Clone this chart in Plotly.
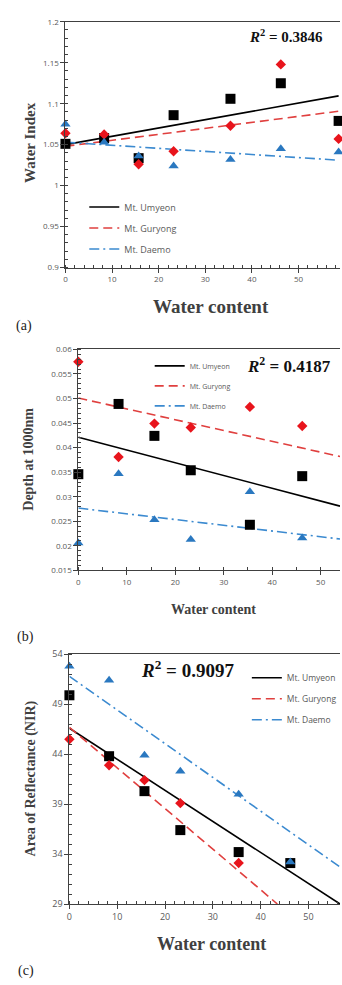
import plotly.graph_objects as go

W, H = 342, 985

# ---------------- data ----------------
water_a = [0, 8.3, 15.7, 23.2, 35.4, 46.2, 58.6]
wi_umyeon = [1.051, 1.058, 1.0335, 1.086, 1.106, 1.125, 1.079]
wi_guryong = [1.064, 1.0625, 1.026, 1.042, 1.073, 1.148, 1.057]
wi_daemo = [1.075, 1.053, 1.036, 1.024, 1.032, 1.045, 1.041]
trend_x_a = [0, 58.6]
trend_wi_umyeon = [1.050, 1.1096]
trend_wi_guryong = [1.048, 1.0908]
trend_wi_daemo = [1.053, 1.031]

water_bc = [0, 8.3, 15.7, 23.2, 35.4, 46.2]
depth_umyeon = [0.0346, 0.0489, 0.0424, 0.0354, 0.0243, 0.0342]
depth_guryong = [0.0575, 0.0381, 0.0449, 0.0441, 0.0483, 0.0444]
depth_daemo = [0.0206, 0.0347, 0.0253, 0.0213, 0.0310, 0.0216]
trend_x_b = [0, 54]
trend_depth_umyeon = [0.0421, 0.0281]
trend_depth_guryong = [0.0501, 0.0382]
trend_depth_daemo = [0.0277, 0.0214]

area_umyeon = [49.9, 43.8, 40.3, 36.4, 34.2, 33.1]
area_guryong = [45.5, 42.9, 41.4, 39.1, 33.1, None]
area_daemo = [52.8, 51.4, 43.9, 42.3, 40.0, 33.2]
trend_x_c_umyeon = [0, 56.6]
trend_area_umyeon = [46.6, 29.0]
trend_x_c_guryong = [0, 43.5]
trend_area_guryong = [46.7, 29.0]
trend_x_c_daemo = [0, 56.6]
trend_area_daemo = [51.8, 32.7]

series_names = ["Mt. Umyeon", "Mt. Guryong", "Mt. Daemo"]

ytick_a = [0.9, 0.95, 1, 1.05, 1.1, 1.15, 1.2]
ytext_a = ["0.9", "0.95", "1", "1.05", "1.1", "1.15", "1.2"]
ytick_b = [0.015, 0.02, 0.025, 0.03, 0.035, 0.04, 0.045, 0.05, 0.055, 0.06]
ytext_b = ["0.015", "0.02", "0.025", "0.03", "0.035", "0.04", "0.045", "0.05", "0.055", "0.06"]
ytick_c = [29, 34, 39, 44, 49, 54]
ytext_c = ["29", "34", "39", "44", "49", "54"]
xtick = [0, 10, 20, 30, 40, 50]
xtext = ["0", "10", "20", "30", "40", "50"]

r2_texts = ["0.3846", "0.4187", "0.9097"]
panel_labels = ["(a)", "(b)", "(c)"]
ytitles = ["Water Index", "Depth at 1000nm", "Area of Reflectance (NIR)"]
xtitle = "Water content"

# ---------------- style ----------------
C_BLACK = "#000000"
C_RED = "#e8141c"
C_BLUE = "#2a78c0"
L_RED = "#e0403f"
L_BLUE = "#3b8ad0"
GRAY = "#595959"
DARK = "#404040"
SERIF = "Liberation Serif"
SANS = "Open Sans"


def px(x):
    return x / W


def py(y):
    return 1 - y / H


fig = go.Figure()

panels = [
    dict(ax="", xs=water_a, ys=[wi_umyeon, wi_guryong, wi_daemo],
         tx=[trend_x_a] * 3, ty=[trend_wi_umyeon, trend_wi_guryong, trend_wi_daemo],
         legend="legend"),
    dict(ax="2", xs=water_bc, ys=[depth_umyeon, depth_guryong, depth_daemo],
         tx=[trend_x_b] * 3, ty=[trend_depth_umyeon, trend_depth_guryong, trend_depth_daemo],
         legend="legend2"),
    dict(ax="3", xs=water_bc, ys=[area_umyeon, area_guryong, area_daemo],
         tx=[trend_x_c_umyeon, trend_x_c_guryong, trend_x_c_daemo],
         ty=[trend_area_umyeon, trend_area_guryong, trend_area_daemo],
         legend="legend3"),
]

symbols = ["square", "diamond", "triangle-up"]
msizes = [10, 8, 9]
mcolors = [C_BLACK, C_RED, C_BLUE]
lcolors = [C_BLACK, L_RED, L_BLUE]
ldash = ["solid", "9px,5px", "10px,4px,2px,4px"]

for p in panels:
    xa, ya = "x" + p["ax"], "y" + p["ax"]
    for i in range(3):
        fig.add_trace(go.Scatter(
            x=p["tx"][i], y=p["ty"][i], mode="lines", name=series_names[i],
            line=dict(color=lcolors[i], width=1.6, dash=ldash[i]),
            xaxis=xa, yaxis=ya, legend=p["legend"], legendgroup=p["ax"] + str(i),
            showlegend=True))
    for i in range(3):
        fig.add_trace(go.Scatter(
            x=p["xs"], y=p["ys"][i], mode="markers", name=series_names[i],
            marker=dict(symbol=symbols[i], size=msizes[i], color=mcolors[i]),
            xaxis=xa, yaxis=ya, showlegend=False, cliponaxis=False))

# axis geometry in pixels: (left, right, top, bottom)
geo = [(63, 340, 15, 264), (76, 340, 347, 571), (67, 340, 656, 909)]
xr = [[0, 58.9], [0, 54], [0, 56.6]]
yr = [[0.9, 1.2], [0.015, 0.06], [29, 54]]
yt = [(ytick_a, ytext_a, 0.01), (ytick_b, ytext_b, 0.001), (ytick_c, ytext_c, 1)]
xminor = [2, 5, 2]
tickfs = [8, 8, 9]

layout = dict(width=W, height=H, margin=dict(l=0, r=0, t=0, b=0),
              paper_bgcolor="white", plot_bgcolor="white", showlegend=True)

for k in range(3):
    l, r, t, b = geo[k]
    sx = "xaxis" + ("" if k == 0 else str(k + 1))
    sy = "yaxis" + ("" if k == 0 else str(k + 1))
    anchor_y = "y" + ("" if k == 0 else str(k + 1))
    anchor_x = "x" + ("" if k == 0 else str(k + 1))
    layout[sx] = dict(domain=[px(l), px(r)], anchor=anchor_y, range=xr[k],
                      tickmode="array", tickvals=xtick, ticktext=xtext,
                      showline=True, linecolor=DARK, linewidth=1, mirror=True,
                      ticks="outside", ticklen=4, tickcolor=DARK,
                      minor=dict(tickmode="linear", tick0=0, dtick=xminor[k], ticks="inside",
                                 ticklen=3, tickcolor=DARK),
                      showgrid=False, zeroline=False,
                      tickfont=dict(family=SANS, size=tickfs[k], color=GRAY))
    tv, tt, mdt = yt[k]
    layout[sy] = dict(domain=[py(b), py(t)], anchor=anchor_x, range=yr[k],
                      tickmode="array", tickvals=tv, ticktext=tt,
                      showline=True, linecolor=DARK, linewidth=1,
                      ticks="outside", ticklen=4, tickcolor=DARK,
                      minor=dict(tickmode="linear", tick0=yr[k][0], dtick=mdt, ticks="inside",
                                 ticklen=3, tickcolor=DARK),
                      showgrid=False, zeroline=False,
                      tickfont=dict(family=SANS, size=tickfs[k], color=GRAY))

leg_common = dict(bgcolor="rgba(0,0,0,0)", borderwidth=0, traceorder="grouped",
                  orientation="v", xanchor="left", yanchor="top", itemwidth=30)
layout["legend"] = dict(leg_common, x=px(82), y=py(188), tracegroupgap=2,
                        font=dict(family=SANS, size=9, color=GRAY))
layout["legend2"] = dict(leg_common, x=px(148), y=py(349), tracegroupgap=1,
                         font=dict(family=SANS, size=7, color=GRAY))
layout["legend3"] = dict(leg_common, x=px(246), y=py(665), tracegroupgap=2,
                         font=dict(family=SANS, size=8.5, color=GRAY))

fig.update_layout(**layout)

ann = []
# y titles
ytitle_pos = [(27, 137, 15), (26, 458, 14), (28, 782, 14)]
for k in range(3):
    x0, y0, fs = ytitle_pos[k]
    ann.append(dict(text="<b>" + ytitles[k] + "</b>", x=px(x0), y=py(y0), xref="paper", yref="paper",
                    textangle=-90, showarrow=False, xanchor="center", yanchor="middle",
                    font=dict(family=SERIF, size=fs, color=DARK)))
# x titles
xtitle_pos = [(210, 303, 19), (212, 611, 14), (210, 950, 18)]
for k in range(3):
    x0, y0, fs = xtitle_pos[k]
    ann.append(dict(text="<b>" + xtitle + "</b>", x=px(x0), y=py(y0), xref="paper", yref="paper",
                    showarrow=False, xanchor="center", yanchor="middle",
                    font=dict(family=SERIF, size=fs, color=DARK)))
# panel labels
lab_pos = [(21, 323), (23, 638), (23, 977)]
for k in range(3):
    x0, y0 = lab_pos[k]
    ann.append(dict(text=panel_labels[k], x=px(x0), y=py(y0), xref="paper", yref="paper",
                    showarrow=False, xanchor="center", yanchor="middle",
                    font=dict(family=SERIF, size=14, color="#222222")))
# R^2
r2_pos = [(286, 29, 15), (289, 363, 17), (186, 671, 19)]
for k in range(3):
    x0, y0, fs = r2_pos[k]
    ann.append(dict(text="<b><i>R</i><sup>2</sup> = " + r2_texts[k] + "</b>", x=px(x0), y=py(y0),
                    xref="paper", yref="paper", showarrow=False, xanchor="center", yanchor="middle",
                    font=dict(family=SERIF, size=fs, color="#111111")))

fig.update_layout(annotations=ann)
fig.write_html(
    "out.html",
    config={"displayModeBar": False},
    post_script="document.body.style.margin='0px';document.body.style.overflow='hidden';",
)
